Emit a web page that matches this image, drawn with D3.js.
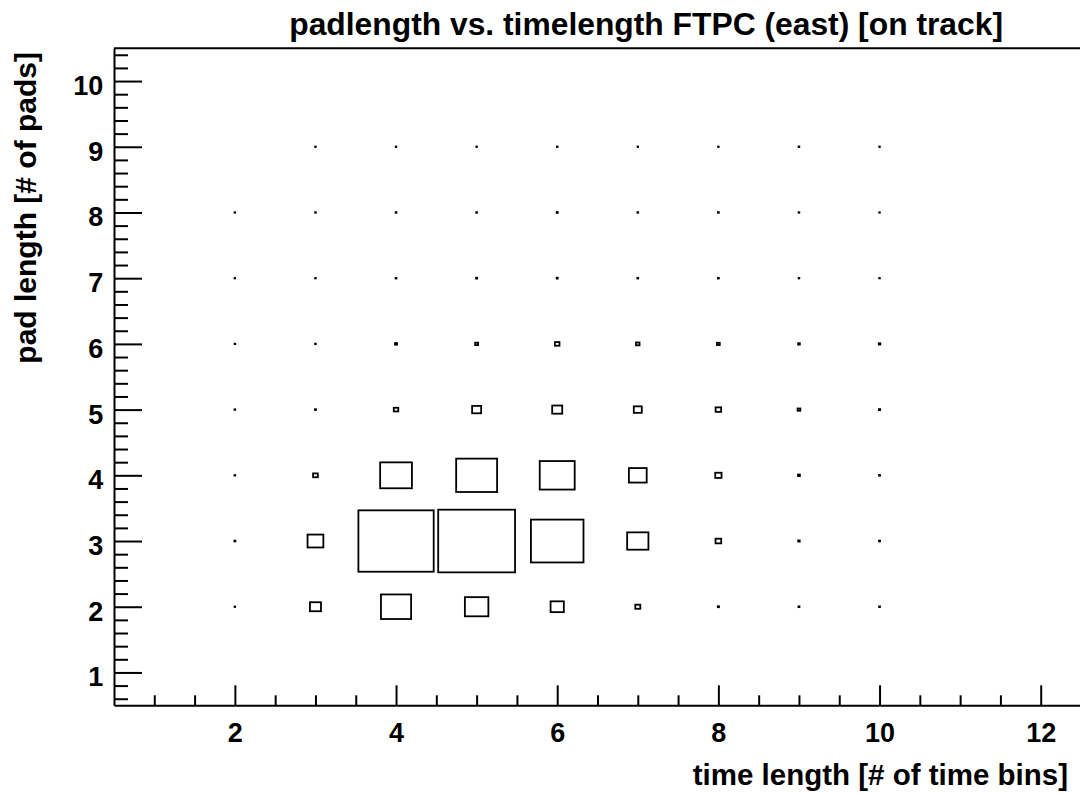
<!DOCTYPE html>
<html>
<head>
<meta charset="utf-8">
<script src="https://cdn.jsdelivr.net/npm/d3@7"></script>
<style>
  body { margin: 0; background: #fff; }
  svg { display: block; }
  text { font-family: "Liberation Sans", Arial, Helvetica, sans-serif; font-weight: bold; fill: #000; }
</style>
</head>
<body>
<svg id="chart" width="1080" height="794"></svg>
<script>
// Cluster size histogram: entries per (time length, pad length) bin
const timeLengths = [2, 3, 4, 5, 6, 7, 8, 9, 10];
const padLengths = [2, 3, 4, 5, 6, 7, 8, 9];
// one array per pad length, values follow timeLengths (0 = empty bin)
const pad2 = [3, 1030, 7700, 4670, 1490, 212, 12, 8, 6];
const pad3 = [8, 2120, 48000, 50000, 23400, 3830, 275, 19, 8];
const pad4 = [4, 187, 8560, 14190, 10350, 2680, 340, 30, 8];
const pad5 = [4, 8, 172, 690, 850, 540, 256, 65, 14];
const pad6 = [3, 4, 34, 76, 172, 104, 65, 25, 20];
const pad7 = [3, 3, 6, 10, 10, 6, 6, 4, 3];
const pad8 = [3, 4, 5, 5, 10, 5, 6, 4, 3];
const pad9 = [0, 3, 3, 3, 4, 3, 3, 4, 3];
const rows = [pad2, pad3, pad4, pad5, pad6, pad7, pad8, pad9];

const xTickValues = [2, 4, 6, 8, 10, 12];
const yTickValues = [1, 2, 3, 4, 5, 6, 7, 8, 9, 10];

const titleText = "padlength vs. timelength FTPC (east) [on track]";
const xTitleText = "time length [# of time bins]";
const yTitleText = "pad length [# of pads]";

const svg = d3.select("#chart");

const x = d3.scaleLinear().domain([0.5, 12.5]).range([114, 1081]);
const y = d3.scaleLinear().domain([0.5, 10.5]).range([705.3, 48.2]);

const cells = [];
rows.forEach((vals, i) => {
  vals.forEach((v, j) => {
    if (v > 0) cells.push({ t: timeLengths[j], p: padLengths[i], v: v });
  });
});

// box area proportional to bin content
const zmax = d3.max(cells, d => d.v) * 1.1;
const frac = d3.scaleSqrt().domain([0, zmax]).range([0, 1]);
const binW = x(1.5) - x(0.5);
const binH = y(0.5) - y(1.5);

svg.append("g")
  .selectAll("rect")
  .data(cells)
  .join("rect")
  .attr("x", d => x(d.t) - frac(d.v) * binW / 2)
  .attr("y", d => y(d.p) - frac(d.v) * binH / 2)
  .attr("width", d => frac(d.v) * binW)
  .attr("height", d => frac(d.v) * binH)
  .attr("fill", "none")
  .attr("stroke", "#000")
  .attr("stroke-width", 1.8);

// frame top edge
svg.append("line")
  .attr("x1", x(0.5)).attr("x2", x(12.5))
  .attr("y1", y(10.5)).attr("y2", y(10.5))
  .attr("stroke", "#000").attr("stroke-width", 2);

// x axis: minor ticks every 0.5, major every 2
const xMinor = d3.range(1, 12.01, 0.5).filter(v => !xTickValues.includes(v));
svg.append("g")
  .attr("transform", `translate(0,${y(0.5)})`)
  .call(d3.axisBottom(x).tickValues(xMinor).tickSizeInner(-10).tickSizeOuter(0).tickFormat(""))
  .call(g => g.select(".domain").remove());

const gx = svg.append("g")
  .attr("transform", `translate(0,${y(0.5)})`)
  .call(d3.axisBottom(x).tickValues(xTickValues).tickSizeInner(-20).tickSizeOuter(0).tickPadding(18).tickFormat(d3.format("d")));
gx.selectAll("text").attr("font-size", 27).attr("font-family", null);

// y axis: minor ticks every 0.2, major every 1
const yMinor = d3.range(6, 105, 2).map(v => v / 10).filter(v => !yTickValues.includes(v));
svg.append("g")
  .attr("transform", `translate(${x(0.5)},0)`)
  .call(d3.axisLeft(y).tickValues(yMinor).tickSizeInner(-14).tickSizeOuter(0).tickFormat(""))
  .call(g => g.select(".domain").remove());

const gy = svg.append("g")
  .attr("transform", `translate(${x(0.5)},0)`)
  .call(d3.axisLeft(y).tickValues(yTickValues).tickSizeInner(-28).tickSizeOuter(0).tickPadding(10.7).tickFormat(d3.format("d")));
gy.selectAll("text").attr("font-size", 27).attr("font-family", null).attr("dy", "0.5em");

svg.selectAll(".tick line, .domain").attr("stroke", "#000").attr("stroke-width", 2);
svg.selectAll("g").attr("font-family", null).attr("font-size", null);

// titles
svg.append("text")
  .attr("x", 1003).attr("y", 35)
  .attr("text-anchor", "end")
  .attr("font-size", 31.8)
  .text(titleText);

svg.append("text")
  .attr("x", 1068).attr("y", 785)
  .attr("text-anchor", "end")
  .attr("font-size", 29.5)
  .text(xTitleText);

svg.append("text")
  .attr("transform", "translate(36,52) rotate(-90)")
  .attr("text-anchor", "end")
  .attr("font-size", 30)
  .text(yTitleText);
</script>
</body>
</html>
